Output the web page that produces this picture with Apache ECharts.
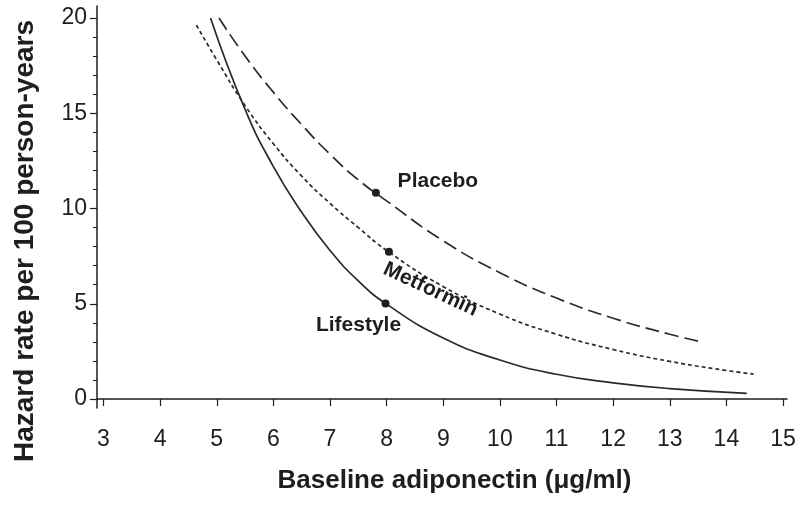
<!DOCTYPE html>
<html>
<head>
<meta charset="utf-8">
<title>Hazard rate by baseline adiponectin</title>
<script src="https://cdn.jsdelivr.net/npm/echarts@6/dist/echarts.min.js"></script>
<style>
    html,body{margin:0;padding:0;background:#fff;}
    #chart{width:800px;height:510px;}
</style>
</head>
<body>
<div id="chart"></div>
<script>
// curves
var lifestyleX = [4.89, 5.5, 6.0, 6.5, 7.0, 7.5, 8.0, 9.0, 10.0, 11.0, 12.0, 13.0, 14.36];
var lifestyleY = [20.0, 15.2, 12.2, 9.8, 7.8, 6.2, 4.98, 3.2, 2.05, 1.3, 0.85, 0.55, 0.30];
var metforminX = [4.64, 5.0, 5.5, 6.0, 6.5, 7.0, 7.5, 8.0, 9.0, 10.0, 11.0, 12.0, 13.0, 14.0, 14.48];
var metforminY = [19.63, 17.8, 15.4, 13.4, 11.7, 10.27, 9.0, 7.8, 5.9, 4.46, 3.4, 2.6, 1.98, 1.5, 1.31];
var placeboX = [5.04, 5.5, 6.0, 6.5, 7.0, 7.5, 8.0, 9.0, 10.0, 11.0, 12.0, 13.0, 13.54];
var placeboY = [20.0, 18.0, 16.1, 14.4, 12.85, 11.5, 10.4, 8.3, 6.63, 5.3, 4.24, 3.4, 3.01];
// marked points + their names
var dotX = [7.81, 8.04, 7.98];
var dotY = [10.83, 7.73, 5.02];
var dotNames = ['Placebo', 'Metformin', 'Lifestyle'];
// ticks
var xTicks = [3, 4, 5, 6, 7, 8, 9, 10, 11, 12, 13, 14, 15];
var yTicks = [0, 5, 10, 15, 20];
var yMinorTicks = [1, 2, 3, 4, 6, 7, 8, 9, 11, 12, 13, 14, 16, 17, 18, 19];

function pairs(xs, ys) {
    return xs.map(function (x, i) { return [x, ys[i]]; });
}

var ink = '#1e1e1e';
var font = 'Liberation Sans, Arial, sans-serif';

// label placement next to each dot
var dotLabels = [
    {offset: [62, -12], rotate: 0},
    {offset: [53.6, 16.6], rotate: -25},
    {offset: [-27, 22], rotate: 0}
];

var myChart = echarts.init(document.getElementById('chart'));
myChart.setOption({
    animation: false,
    grid: {left: 97, right: 13, top: 6, bottom: 102},
    xAxis: {
        type: 'value',
        min: 2.885,
        max: 15.07,
        name: 'Baseline adiponectin (μg/ml)',
        nameLocation: 'middle',
        nameGap: 60,
        nameTextStyle: {color: ink, fontFamily: font, fontSize: 26, fontWeight: 'bold', padding: [0, 0, 0, 25]},
        axisLine: {lineStyle: {color: ink, width: 1.5}},
        axisTick: {customValues: xTicks, length: 7, lineStyle: {color: ink, width: 1.2}},
        axisLabel: {customValues: xTicks, margin: 20, color: ink, fontFamily: font, fontSize: 23},
        splitLine: {show: false}
    },
    yAxis: [{
        type: 'value',
        min: -0.47,
        max: 20.63,
        name: 'Hazard rate per 100 person-years',
        nameLocation: 'middle',
        nameGap: 58,
        nameTextStyle: {color: ink, fontFamily: font, fontSize: 28, fontWeight: 'bold', padding: [0, 68, 0, 0]},
        axisLine: {show: true, lineStyle: {color: ink, width: 1.5}},
        axisTick: {show: true, customValues: yTicks, length: 7, lineStyle: {color: ink, width: 1.2}},
        axisLabel: {customValues: yTicks, margin: 10, color: ink, fontFamily: font, fontSize: 23},
        splitLine: {show: false}
    }, {
        // only for the small ticks
        type: 'value',
        position: 'left',
        min: -0.47,
        max: 20.63,
        axisLine: {show: false},
        axisTick: {show: true, customValues: yMinorTicks, length: 4, lineStyle: {color: ink, width: 1}},
        axisLabel: {show: false},
        splitLine: {show: false}
    }],
    series: [{
        name: 'Lifestyle',
        type: 'line',
        smooth: 0.5,
        showSymbol: false,
        data: pairs(lifestyleX, lifestyleY),
        lineStyle: {color: '#2a2a2a', width: 1.7, type: 'solid'}
    }, {
        name: 'Metformin',
        type: 'line',
        smooth: 0.5,
        showSymbol: false,
        data: pairs(metforminX, metforminY),
        lineStyle: {color: '#2a2a2a', width: 1.7, type: [4, 3]}
    }, {
        name: 'Placebo',
        type: 'line',
        smooth: 0.5,
        showSymbol: false,
        data: pairs(placeboX, placeboY),
        lineStyle: {color: '#2a2a2a', width: 1.7, type: [14, 6]}
    }, {
        name: 'points',
        type: 'scatter',
        symbol: 'circle',
        symbolSize: 8,
        itemStyle: {color: ink, opacity: 1},
        z: 5,
        data: dotX.map(function (x, i) {
            return {
                value: [x, dotY[i]],
                label: {
                    show: true,
                    formatter: dotNames[i],
                    position: 'inside',
                    align: 'center',
                    verticalAlign: 'middle',
                    offset: dotLabels[i].offset,
                    rotate: dotLabels[i].rotate,
                    color: ink,
                    textBorderWidth: 0,
                    fontFamily: font,
                    fontSize: 21,
                    fontWeight: 'bold'
                }
            };
        })
    }]
});
</script>
</body>
</html>
